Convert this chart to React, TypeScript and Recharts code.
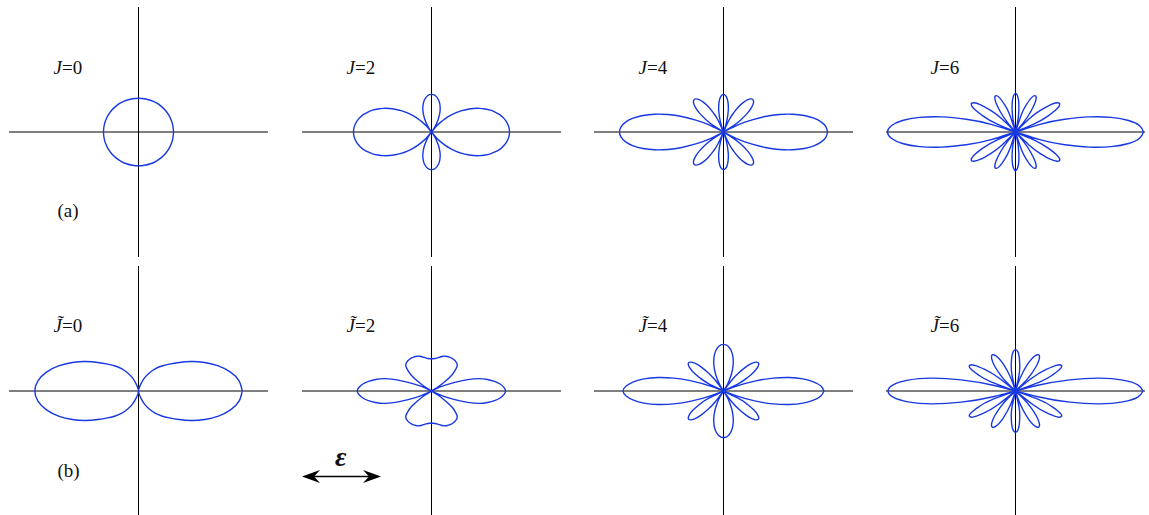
import React from 'react';
import { LineChart, Line, XAxis, YAxis, ReferenceLine } from 'recharts';

// one quadrant of each angular distribution: [angle from the field axis (deg), radius]
// the other three quadrants are mirror images
type Quadrant = [number, number][];

// row (a): J states
const J0_A: Quadrant = [
  [0, 0.35], [10, 0.35], [20, 0.35], [30, 0.35], [40, 0.35],
  [50, 0.35], [60, 0.35], [70, 0.35], [80, 0.35], [90, 0.35],
];
const J2_A: Quadrant = [
  [0, 0.78], [3, 0.777], [6, 0.767], [9, 0.751], [12, 0.729], [15, 0.702], [18, 0.668],
  [21, 0.63], [24, 0.586], [27, 0.539], [30, 0.488], [33, 0.433], [36, 0.376], [39, 0.317],
  [42, 0.256], [45, 0.195], [48, 0.134], [51, 0.073], [54.7, 0], [57, 0.043], [60, 0.098],
  [63, 0.149], [66, 0.196], [69, 0.24], [72, 0.278], [75, 0.312], [78, 0.339], [81, 0.361],
  [84, 0.377], [87, 0.387], [90, 0.39],
];
const J4_A: Quadrant = [
  [0, 1.04], [3, 1.026], [6, 0.984], [9, 0.915], [12, 0.824], [15, 0.712], [18, 0.585],
  [21, 0.447], [24, 0.304], [27, 0.162], [30.6, 0], [33, 0.102], [36, 0.213], [39, 0.306],
  [42, 0.376], [45, 0.423], [48, 0.444], [51, 0.441], [54, 0.414], [57, 0.366], [60, 0.301],
  [63, 0.221], [66, 0.131], [70.1, 0], [72, 0.059], [75, 0.149], [78, 0.23], [81, 0.297],
  [84, 0.348], [87, 0.379], [90, 0.39],
];
const J6_A: Quadrant = [
  [0, 1.28], [3, 1.243], [6, 1.137], [9, 0.969], [12, 0.754], [15, 0.51], [18, 0.256],
  [21.2, 0], [24, 0.199], [27, 0.367], [30, 0.479], [33, 0.528], [36, 0.516], [39, 0.448],
  [42, 0.334], [45, 0.19], [48.6, 0], [51, 0.122], [54, 0.256], [57, 0.357], [60, 0.414],
  [63, 0.423], [66, 0.384], [69, 0.302], [72, 0.188], [76.2, 0], [78, 0.082], [81, 0.209],
  [84, 0.311], [87, 0.377], [90, 0.4],
];

// row (b): J-tilde states
const J0_B: Quadrant = [
  [0, 1.037], [6, 1.011], [12, 0.941], [18, 0.84], [24, 0.725], [30, 0.61], [36, 0.502],
  [42, 0.415], [48, 0.348], [54, 0.283], [60, 0.215], [66, 0.148], [72, 0.078], [78, 0.028],
  [84, 0.007], [90, 0],
];
const J2_B: Quadrant = [
  [0, 0.743], [3, 0.725], [6, 0.69], [9, 0.638], [12, 0.572], [15, 0.495], [18, 0.38],
  [21, 0.25], [24, 0.135], [27, 0.05], [29, 0], [33, 0.08], [36, 0.17], [39, 0.26],
  [42, 0.318], [45, 0.362], [48, 0.381], [51, 0.389], [54, 0.393], [57, 0.395], [60, 0.395],
  [63, 0.394], [66, 0.391], [69, 0.386], [72, 0.378], [75, 0.367], [78, 0.355], [81, 0.345],
  [84, 0.338], [87, 0.335], [90, 0.334],
];
const J4_B: Quadrant = [
  [0, 1.005], [3, 0.975], [6, 0.905], [9, 0.805], [12, 0.672], [15, 0.515], [18, 0.34],
  [21, 0.14], [23, 0], [27, 0.164], [30, 0.274], [33, 0.363], [36, 0.424], [39, 0.453],
  [42, 0.447], [45, 0.407], [48, 0.336], [51, 0.24], [54, 0.125], [57, 0], [60, 0.069],
  [63, 0.136], [66, 0.201], [69, 0.261], [72, 0.316], [75, 0.365], [78, 0.406], [81, 0.439],
  [84, 0.463], [87, 0.478], [90, 0.483],
];
const J6_B: Quadrant = [
  [0, 1.275], [3, 1.225], [6, 1.08], [9, 0.85], [12, 0.555], [15, 0.22], [17, 0],
  [21, 0.251], [24, 0.403], [27, 0.5], [30, 0.53], [33, 0.488], [36, 0.381], [39, 0.222],
  [42.5, 0], [45, 0.109], [48, 0.229], [51, 0.33], [54, 0.401], [57, 0.437], [60, 0.433],
  [63, 0.392], [66, 0.315], [69, 0.211], [72, 0.087], [74, 0], [78, 0.164], [81, 0.272],
  [84, 0.356], [87, 0.41], [90, 0.428],
];

const J_LABELS = ['0', '2', '4', '6'];
const ROW_A = [J0_A, J2_A, J4_A, J6_A];
const ROW_B = [J0_B, J2_B, J4_B, J6_B];

const COL_LEFT = [9, 302, 594, 886];
const ROW_TOP = [7, 266];
const W = 259;
const H = 250;
const BLUE = '#1838e2';
const SERIF = "'Liberation Serif', 'DejaVu Serif', serif";

const rad = Math.PI / 180;

// mirror one quadrant into a closed loop in x/y
const toLoop = (q: Quadrant) => {
  const pts: { x: number; y: number }[] = [];
  const add = (deg: number, r: number) =>
    pts.push({ x: r * Math.cos(deg * rad), y: r * Math.sin(deg * rad) });
  const rev = [...q].reverse();
  q.forEach(([a, r]) => add(a, r));
  rev.slice(1).forEach(([a, r]) => add(180 - a, r));
  q.slice(1).forEach(([a, r]) => add(180 + a, r));
  rev.slice(1).forEach(([a, r]) => add(360 - a, r));
  return pts;
};

const Panel = ({ left, top, quadrant }: { left: number; top: number; quadrant: Quadrant }) => (
  <div style={{ position: 'absolute', left, top, width: W, height: H }}>
    <LineChart width={W} height={H} data={toLoop(quadrant)} margin={{ top: 0, right: 0, bottom: 0, left: 0 }}>
      <XAxis type="number" dataKey="x" domain={[-1.295, 1.295]} allowDataOverflow hide />
      <YAxis type="number" domain={[-1.294, 1.294]} allowDataOverflow hide />
      <ReferenceLine x={0} stroke="#000" strokeWidth={1} />
      <ReferenceLine y={0} stroke="#000" strokeWidth={1} />
      <Line
        type="natural"
        dataKey="y"
        stroke={BLUE}
        strokeWidth={1.4}
        dot={false}
        activeDot={false}
        isAnimationActive={false}
      />
    </LineChart>
  </div>
);

export default function App() {
  const cx = COL_LEFT.map((l) => l + W / 2);
  const cy = ROW_TOP.map((t) => t + H / 2);
  return (
    <div style={{ position: 'absolute', left: 0, top: 0, width: 1149, height: 515, background: '#fff', overflow: 'hidden' }}>
      {ROW_A.map((q, i) => (
        <Panel key={`a${i}`} left={COL_LEFT[i]} top={ROW_TOP[0]} quadrant={q} />
      ))}
      {ROW_B.map((q, i) => (
        <Panel key={`b${i}`} left={COL_LEFT[i]} top={ROW_TOP[1]} quadrant={q} />
      ))}
      <svg
        width={1149}
        height={515}
        style={{ position: 'absolute', left: 0, top: 0, pointerEvents: 'none', fontFamily: SERIF }}
      >
        <g fontSize={19} fill="#111">
          {J_LABELS.map((j, i) => (
            <text key={`la${i}`} x={cx[i] - 85} y={cy[0] - 58}>
              <tspan fontStyle="italic">J</tspan>={j}
            </text>
          ))}
          {J_LABELS.map((j, i) => (
            <text key={`lb${i}`} x={cx[i] - 85} y={cy[1] - 59}>
              <tspan fontStyle="italic">{'J\u0303'}</tspan>={j}
            </text>
          ))}
          <text x={cx[0] - 81} y={cy[0] + 85}>(a)</text>
          <text x={cx[0] - 81} y={cy[1] + 86}>(b)</text>
          <text x={335} y={466} fontSize={28} fontWeight="bold" fontStyle="italic">ε</text>
        </g>
        <g fill="#000">
          <line x1={312} y1={476.5} x2={371} y2={476.5} stroke="#000" strokeWidth={1.3} />
          <path d="M302,476.5 L320,470 L314,476.5 L320,483 Z" />
          <path d="M381,476.5 L363,470 L369,476.5 L363,483 Z" />
        </g>
      </svg>
    </div>
  );
}
